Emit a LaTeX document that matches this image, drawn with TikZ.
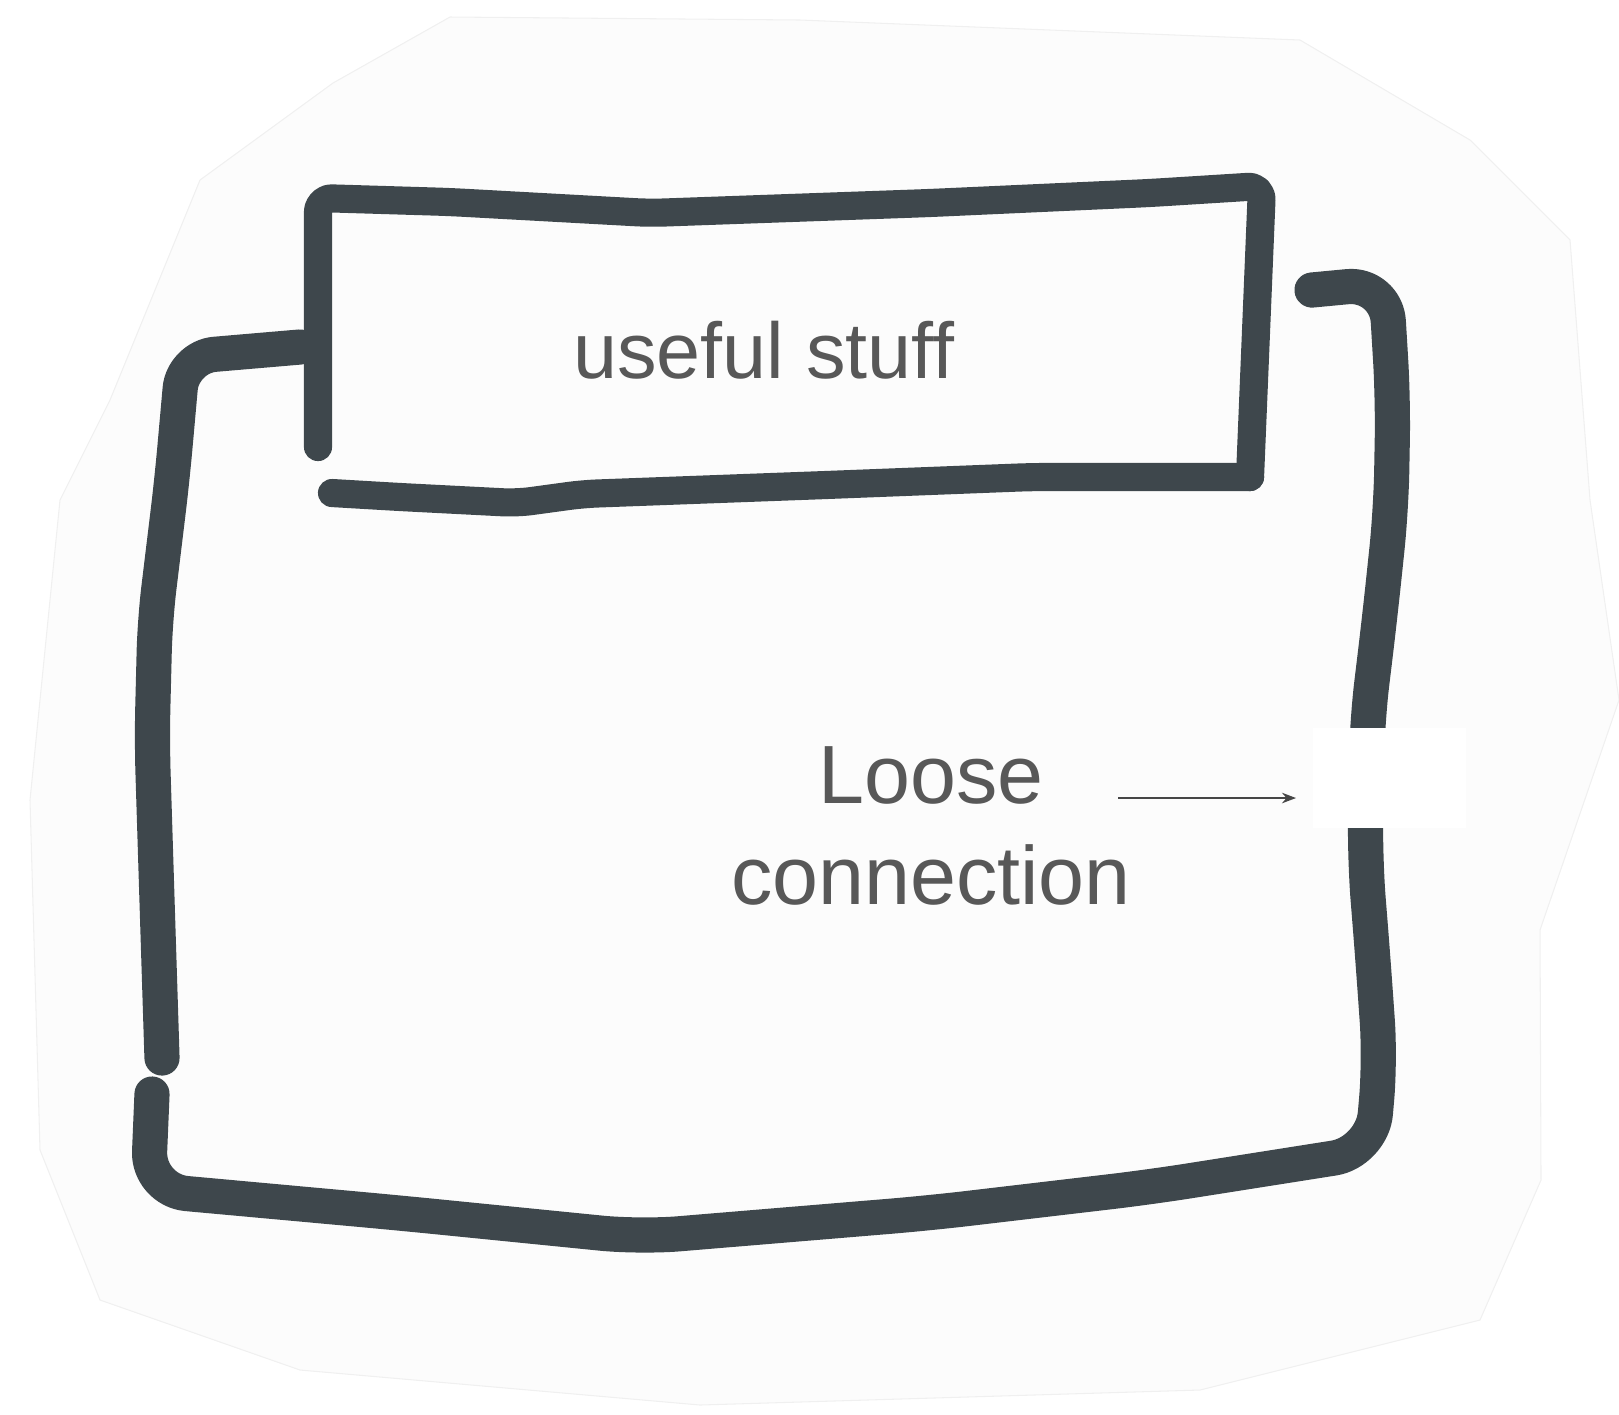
\documentclass[tikz,border=0pt]{standalone}
\usepackage{fontspec}
\setmainfont{Liberation Sans}
\usetikzlibrary{arrows.meta}
\definecolor{ink}{HTML}{3E474C}
\definecolor{label}{HTML}{585858}
\begin{document}
\begin{tikzpicture}[x=0.01cm, y=-0.01cm,
    pen/.style={line width=8pt, draw=ink, line cap=round, line join=round},
    fatpen/.style={pen, line width=10pt},
    tag/.style={text=label, inner sep=0pt, align=center},
    paper/.style={fill=black!1, draw=black!6, line width=0.3pt}]
    \useasboundingbox (0,0) rectangle (1619,1414);
    % sheet of paper
    \path[paper] (450,17) -- (800,20) -- (1300,40) -- (1470,140) -- (1570,240)
      -- (1590,500) -- (1619,700) -- (1540,930) -- (1541,1180) -- (1480,1320)
      -- (1200,1390) -- (700,1405) -- (300,1370) -- (100,1300) -- (40,1150)
      -- (30,800) -- (60,500) -- (110,400) -- (200,180) -- (333,83) -- cycle;
    % box with the useful stuff
    \draw[pen, rounded corners=4pt] (318,447) -- (318,198) -- (450,202)
      -- (650,213) -- (930,203) -- (1150,193) -- (1262,186) -- (1250,477);
    \draw[pen, rounded corners=4pt] (1250,477) -- (1032,477) -- (826,485)
      -- (583,494) -- (517,503) -- (400,497) -- (332,493);
    % outer loop
    \draw[fatpen, rounded corners=9pt] (300,347) -- (183,357) -- (172,480)
      -- (155,620) -- (152,740) -- (157,900) -- (162,1058);
    \draw[fatpen, rounded corners=11pt] (152,1094) -- (148,1190) -- (400,1213)
      -- (640,1237) -- (929,1213) -- (1150,1187) -- (1372,1152) -- (1380,1060)
      -- (1373,960) -- (1365,860) -- (1367,723) -- (1380,615) -- (1391,510)
      -- (1393,400) -- (1386,283) -- (1312,290);
    % white patch over the gap
    \node[fill=white, minimum width=1.53cm, minimum height=1.0cm, inner sep=0pt]
      (gap) at (1389.5,778) {};
    \node[tag, font=\fontsize{22.5}{27}\selectfont] (stuff) at (764,350) {useful stuff};
    \node[tag, font=\fontsize{23.5}{28.8}\selectfont] (loose) at (931,826)
      {Loose\\connection};
    \coordinate (tail) at (1118,798);
    \coordinate (tip) at (1296,798);
    \draw[-{Stealth[length=4pt, width=3pt]}, line width=0.5pt, draw=label!80!black]
      (tail) -- (tip);
\end{tikzpicture}
\end{document}
